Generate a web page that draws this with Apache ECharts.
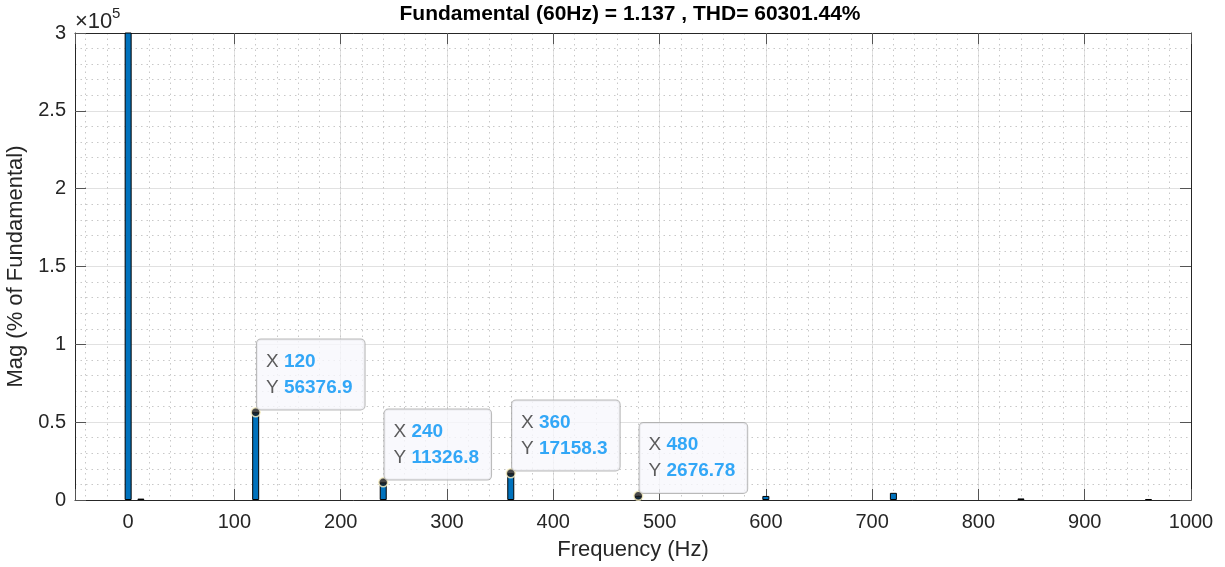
<!DOCTYPE html>
<html><head><meta charset="utf-8">
<script src="https://cdn.jsdelivr.net/npm/echarts@6/dist/echarts.min.js"></script>
<style>html,body{margin:0;padding:0;background:#fff}#c{width:1225px;height:567px}</style>
</head><body><div id="c"></div>
<script>
const titleText = 'Fundamental (60Hz) = 1.137 , THD= 60301.44%';
const xName = 'Frequency (Hz)';
const yName = 'Mag (% of Fundamental)';
const yExponent = '5';
// spectrum bars (Hz, % of fundamental)
const freqs = [0, 12, 120, 240, 360, 480, 600, 720, 840, 960];
const mags = [450000, 900, 56376.9, 11326.8, 17158.3, 2676.78, 2600, 4600, 1000, 650];
// data tips
const tipFreqs = [120, 240, 360, 480];
const tipMags = [56376.9, 11326.8, 17158.3, 2676.78];

const FONT = '"Liberation Sans", Arial, Helvetica, sans-serif';
const AX = '#262626';
const GRID = '#e1e1e1';
const MINOR = '#c8c8c8';

const barData = freqs.map((f, i) => [f, mags[i]]);
const tipData = tipFreqs.map((f, i) => [f, tipMags[i]]);

const chart = echarts.init(document.getElementById('c'), null, {renderer: 'canvas'});
const commonX = {type: 'value', min: -50, max: 1000, minInterval: 100, maxInterval: 100, gridIndex: 0};
chart.setOption({
  animation: false,
  backgroundColor: '#fff',
  textStyle: {fontFamily: FONT},
  grid: {left: 75, right: 34, top: 33, bottom: 67, containLabel: false, outerBoundsMode: 'none'},
  graphic: [
    {type: 'text', x: 630, y: 14, style: {text: titleText, font: 'bold 21px ' + FONT, fill: '#000', align: 'center', verticalAlign: 'middle'}},
    {type: 'text', x: 75, y: 22, style: {text: '\u00d710', font: '22px ' + FONT, fill: AX, align: 'left', verticalAlign: 'middle'}},
    {type: 'text', x: 112, y: 14, style: {text: yExponent, font: '15px ' + FONT, fill: AX, align: 'left', verticalAlign: 'middle'}}
  ],
  xAxis: [
    Object.assign({}, commonX, {
      position: 'bottom',
      name: xName, nameLocation: 'middle', nameGap: 39,
      nameTextStyle: {fontSize: 22, color: AX, fontFamily: FONT, verticalAlign: 'top'},
      axisLine: {show: true, onZero: false, lineStyle: {color: AX, width: 1}},
      axisTick: {show: true, inside: true, length: 11, lineStyle: {color: '#555', width: 1}},
      axisLabel: {fontSize: 20, color: AX, margin: 12, fontFamily: FONT, showMinLabel: true,
        formatter: v => (v < 0 ? '' : String(v))},
      splitLine: {show: true, lineStyle: {color: GRID, width: 1}}
    }),
    Object.assign({}, commonX, {
      position: 'top',
      axisLine: {show: true, onZero: false, lineStyle: {color: AX, width: 1}},
      axisTick: {show: true, inside: true, length: 11, lineStyle: {color: '#555', width: 1}},
      axisLabel: {show: false},
      splitLine: {show: false}
    }),
    {type: 'value', min: -50, max: 1000, minInterval: 20, maxInterval: 20, gridIndex: 0, position: 'bottom',
      axisLine: {show: false}, axisTick: {show: false}, axisLabel: {show: false},
      splitLine: {show: true, lineStyle: {color: MINOR, width: 1, type: [1.5, 4]}}}
  ],
  yAxis: [
    {type: 'value', min: 0, max: 300000, interval: 50000, position: 'left',
      name: yName, nameLocation: 'middle', nameGap: 44,
      nameTextStyle: {fontSize: 22, color: AX, fontFamily: FONT},
      axisLine: {show: true, onZero: false, lineStyle: {color: AX, width: 1}},
      axisTick: {show: true, inside: true, length: 11, lineStyle: {color: '#555', width: 1}},
      axisLabel: {fontSize: 20, color: AX, margin: 9, fontFamily: FONT, formatter: v => String(v / 100000)},
      splitLine: {show: true, lineStyle: {color: GRID, width: 1}},
      minorTick: {show: false, splitNumber: 5},
      minorSplitLine: {show: true, lineStyle: {color: MINOR, width: 1, type: [1.5, 4]}}
    },
    {type: 'value', min: 0, max: 300000, interval: 50000, position: 'right',
      axisLine: {show: true, onZero: false, lineStyle: {color: AX, width: 1}},
      axisTick: {show: true, inside: true, length: 11, lineStyle: {color: '#555', width: 1}},
      axisLabel: {show: false}, splitLine: {show: false}
    }
  ],
  series: [
    {type: 'bar', xAxisIndex: 0, yAxisIndex: 0, data: barData, barWidth: 7, clip: true,
      itemStyle: {color: '#0072BD', borderColor: '#000', borderWidth: 1}, z: 3},
    {type: 'scatter', xAxisIndex: 0, yAxisIndex: 0, data: tipData, symbol: 'circle', symbolSize: 9, z: 5,
      itemStyle: {color: '#1a1a1a', borderColor: '#fff6c8', borderWidth: 1.5},
      label: {show: true, position: [6.5, 2.5], align: 'left', verticalAlign: 'bottom',
        backgroundColor: '#f8f8fd', borderColor: '#a8a8a8', borderWidth: 1, borderRadius: 4,
        padding: [9, 12, 9, 9], fontSize: 19, lineHeight: 26, fontFamily: FONT, color: '#333',
        formatter: p => '{k|X} {v|' + p.value[0] + '}\n{k|Y} {v|' + p.value[1] + '}',
        rich: {
          k: {fontSize: 19, color: '#333', fontFamily: FONT, lineHeight: 26},
          v: {fontSize: 19, color: '#0092f5', fontWeight: 'bold', fontFamily: FONT, lineHeight: 26}
        }
      }
    }
  ]
});
</script></body></html>
